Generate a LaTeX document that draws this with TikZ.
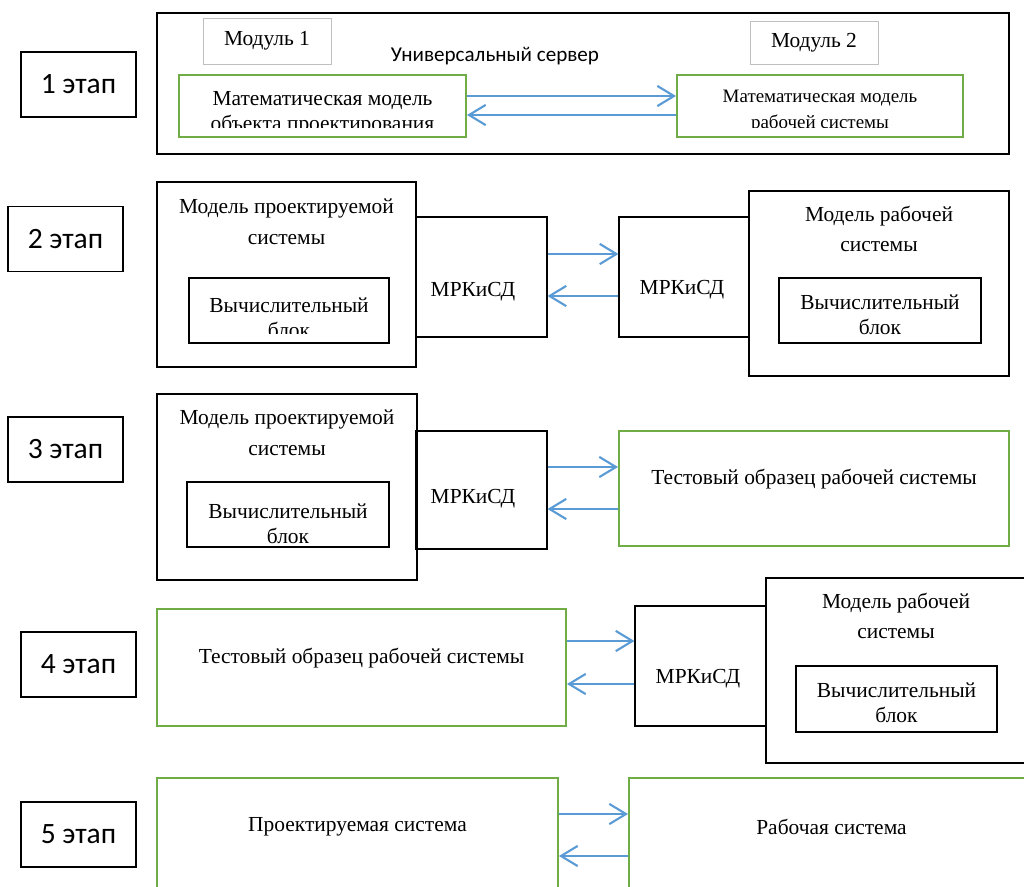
\documentclass[tikz,border=0pt]{standalone}
\usepackage{fontspec}
\setmainfont{Liberation Serif}
\newfontfamily\carlito{Carlito}
\usetikzlibrary{arrows.meta,calc}
\definecolor{cGreenD}{HTML}{70AD47}
\definecolor{cBlueD}{HTML}{5B9BD5}
\definecolor{cGrayD}{HTML}{BFBFBF}
\tikzset{
  stagebox/.style = {draw, line width=0.6pt, minimum width=2.3cm, minimum height=1.3cm,
                     inner sep=0pt, font=\carlito\fontsize{16.8}{19}\selectfont},
  outer/.style    = {draw, line width=1.1pt, inner sep=0pt},
  inner/.style    = {draw, line width=0.6pt, inner sep=0pt},
  modbox/.style   = {draw=cGrayD, line width=0.5pt, inner sep=0pt,
                     font=\fontsize{12.2}{14.5}\selectfont},
  green/.style    = {draw=cGreenD, line width=1.1pt, inner sep=0pt},
  txt/.style      = {align=center, inner sep=0pt, font=\fontsize{12.2}{14.5}\selectfont},
  title/.style    = {txt, font=\fontsize{12.2}{17.5}\selectfont},
  link/.style     = {cBlueD, line width=1.2pt, -{Straight Barb[length=9.5pt,width=11.5pt]}},
}

\begin{document}
\begin{tikzpicture}
  \useasboundingbox (0,0) rectangle (20.48,-17.74);
  % stage labels
  \node[stagebox] (st1) at (1.57,-1.69) {1 этап};
  \node[stagebox] (st2) at (1.31,-4.78) {2 этап};
  \node[stagebox] (st3) at (1.31,-8.99) {3 этап};
  \node[stagebox] (st4) at (1.57,-13.29) {4 этап};
  \node[stagebox] (st5) at (1.57,-16.69) {5 этап};

  % stage 1
  \node[outer, minimum width=17.04cm, minimum height=2.82cm] (srv) at (11.66,-1.67) {};
  \node[inner sep=0pt, font=\carlito\fontsize{12}{14}\selectfont] (srvt) at (9.90,-1.12) {Универсальный сервер};
  \node[modbox, minimum width=2.56cm, minimum height=0.92cm] (mod1) at (5.34,-0.82) {Модуль 1};
  \node[modbox, minimum width=2.56cm, minimum height=0.86cm] (mod2) at (16.28,-0.85) {Модуль 2};
  \node[green, minimum width=5.74cm, minimum height=1.24cm] (mm1) at (6.45,-2.12) {};
  \node[green, minimum width=5.72cm, minimum height=1.24cm] (mm2) at (16.40,-2.12) {};
  \begin{scope}
    \clip (mm1.north west) rectangle ([yshift=2mm]mm2.south east);
    \node[txt] (mm1t) at (6.45,-2.27) {Математическая модель\\объекта проектирования};
    \node[txt, font=\fontsize{10.8}{14.5}\selectfont] (mm2t) at (16.40,-2.23) {Математическая модель\\рабочей системы};
  \end{scope}
  \coordinate (a1r) at ([yshift=2mm]mm1.east);
  \coordinate (a1l) at ([yshift=-1.8mm]mm2.west);
  \draw[link] (a1r) -- (a1r -| mm2.west);
  \draw[link] (a1l) -- (a1l -| mm1.east);

  % stage 2
  \node[inner, minimum width=2.62cm, minimum height=2.4cm] (mrk2L) at (9.63,-5.54) {};
  \node[inner, minimum width=2.60cm, minimum height=2.4cm] (mrk2R) at (13.68,-5.54) {};
  \node[outer, minimum width=5.18cm, minimum height=3.70cm] (mps2) at (5.73,-5.49) {};
  \node[outer, minimum width=5.20cm, minimum height=3.70cm] (mrs2) at (17.58,-5.67) {};
  \node[title] (mps2t) at (5.73,-4.44) {Модель проектируемой\\системы};
  \node[title] (mrs2t) at (17.58,-4.58) {Модель рабочей\\системы};
  \node[inner, minimum width=4.00cm, minimum height=1.30cm] (cb2L) at (5.78,-6.21) {};
  \node[inner, minimum width=4.04cm, minimum height=1.30cm] (cb2R) at (17.60,-6.21) {};
  \begin{scope}
    \clip (cb2L.north west) rectangle ([yshift=2mm]cb2L.south east);
    \node[txt] (cb2Lt) at (5.78,-6.35) {Вычислительный\\блок};
  \end{scope}
  \node[txt] (cb2Rt) at (17.60,-6.29) {Вычислительный\\блок};
  \node[txt] (mrk2Lt) at (9.46,-5.83) {МРКиСД};
  \node[txt] (mrk2Rt) at (13.64,-5.80) {МРКиСД};
  \coordinate (a2r) at ([yshift=4.6mm]mrk2L.east);
  \coordinate (a2l) at ([yshift=-3.8mm]mrk2R.west);
  \draw[link] (a2r) -- (a2r -| mrk2R.west);
  \draw[link] (a2l) -- (a2l -| mrk2L.east);

  % stage 3
  \node[inner, minimum width=2.62cm, minimum height=2.36cm] (mrk3) at (9.63,-9.80) {};
  \node[outer, minimum width=5.20cm, minimum height=3.72cm] (mps3) at (5.74,-9.74) {};
  \node[title] (mps3t) at (5.74,-8.66) {Модель проектируемой\\системы};
  \node[inner, minimum width=4.04cm, minimum height=1.30cm] (cb3) at (5.76,-10.29) {};
  \node[txt] (cb3t) at (5.76,-10.47) {Вычислительный\\блок};
  \node[txt] (mrk3t) at (9.46,-9.97) {МРКиСД};
  \node[green, minimum width=7.80cm, minimum height=2.30cm] (tos3) at (16.28,-9.77) {};
  \node[txt] (tos3t) at (16.28,-9.59) {Тестовый образец рабочей системы};
  \coordinate (a3r) at ([yshift=4.6mm]mrk3.east);
  \coordinate (a3l) at ([yshift=-3.8mm]mrk3.east);
  \draw[link] (a3r) -- (a3r -| tos3.west);
  \draw[link] (a3l -| tos3.west) -- (a3l);

  % stage 4
  \node[green, minimum width=8.18cm, minimum height=2.34cm] (tos4) at (7.23,-13.35) {};
  \node[txt] (tos4t) at (7.23,-13.17) {Тестовый образец рабочей системы};
  \node[inner, minimum width=2.62cm, minimum height=2.40cm] (mrk4) at (14.01,-13.32) {};
  \node[outer, minimum width=5.20cm, minimum height=3.70cm] (mrs4) at (17.92,-13.41) {};
  \node[title] (mrs4t) at (17.92,-12.32) {Модель рабочей\\системы};
  \node[inner, minimum width=4.02cm, minimum height=1.32cm] (cb4) at (17.93,-13.98) {};
  \node[txt] (cb4t) at (17.93,-14.05) {Вычислительный\\блок};
  \node[txt] (mrk4t) at (13.96,-13.58) {МРКиСД};
  \coordinate (a4r) at ([yshift=5mm]mrk4.west);
  \coordinate (a4l) at ([yshift=-3.6mm]mrk4.west);
  \draw[link] (a4r -| tos4.east) -- (a4r);
  \draw[link] (a4l) -- (a4l -| tos4.east);

  % stage 5
  \node[green, minimum width=8.02cm, minimum height=2.34cm] (ps5) at (7.15,-16.73) {};
  \node[txt] (ps5t) at (7.15,-16.54) {Проектируемая система};
  \node[green, minimum width=8.10cm, minimum height=2.34cm] (rs5) at (16.63,-16.73) {};
  \node[txt] (rs5t) at (16.63,-16.54) {Рабочая система};
  \coordinate (a5r) at ([yshift=4.5mm]ps5.east);
  \coordinate (a5l) at ([yshift=-3.9mm]ps5.east);
  \draw[link] (a5r) -- (a5r -| rs5.west);
  \draw[link] (a5l -| rs5.west) -- (a5l);
\end{tikzpicture}
\end{document}
